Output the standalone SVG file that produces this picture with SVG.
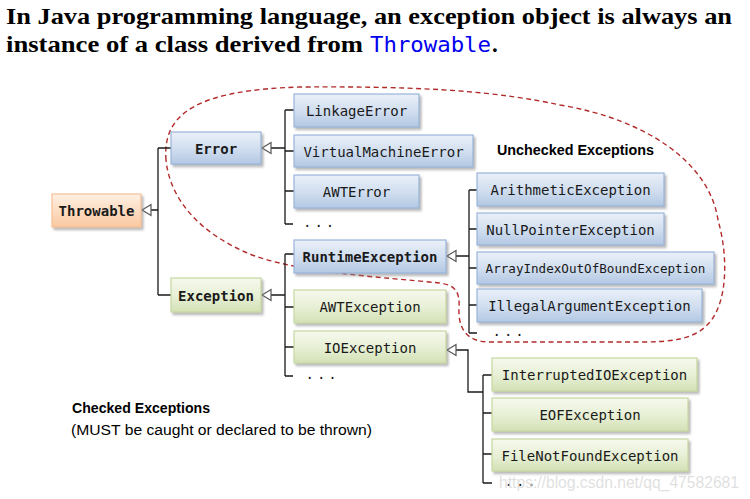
<svg xmlns="http://www.w3.org/2000/svg" width="750" height="499" viewBox="0 0 750 499">
<defs>
<linearGradient id="gBlue" x1="0" y1="0" x2="0" y2="1">
<stop offset="0" stop-color="#eaf0f8"/><stop offset="0.5" stop-color="#d2dff0"/><stop offset="1" stop-color="#b3c8e3"/>
</linearGradient>
<linearGradient id="gGreen" x1="0" y1="0" x2="0" y2="1">
<stop offset="0" stop-color="#f6f9ee"/><stop offset="0.5" stop-color="#e8f0d6"/><stop offset="1" stop-color="#d3e1b6"/>
</linearGradient>
<linearGradient id="gOrange" x1="0" y1="0" x2="0" y2="1">
<stop offset="0" stop-color="#fef0e4"/><stop offset="0.5" stop-color="#fddcc2"/><stop offset="1" stop-color="#fac9a0"/>
</linearGradient>
<filter id="sh" x="-10%" y="-20%" width="130%" height="160%">
<feDropShadow dx="2" dy="2.5" stdDeviation="1.2" flood-color="#808080" flood-opacity="0.55"/>
</filter>
</defs>
<style>
.b{fill:url(#gBlue);stroke:#9ab5d9;stroke-width:1.2;filter:url(#sh)}
.g{fill:url(#gGreen);stroke:#c6d8a0;stroke-width:1.2;filter:url(#sh)}
.o{fill:url(#gOrange);stroke:#f5c096;stroke-width:1.2;filter:url(#sh)}
.t{font-family:"DejaVu Sans Mono","Liberation Mono",monospace;font-size:14px;fill:#1a1a1a;text-anchor:middle}
.tb{font-weight:bold}
.sm{font-size:12.6px}
.dots{font-family:"DejaVu Sans Mono","Liberation Mono",monospace;font-size:14px;fill:#1a1a1a;letter-spacing:3px}
.ln{stroke:#1a1a1a;stroke-width:1.3;fill:none}
.ah{stroke:#555;stroke-width:1.2;fill:#fff}
.ttl{font-family:"Liberation Serif","DejaVu Serif",serif;font-weight:bold;font-size:23px;fill:#000}
.lab{font-family:"Liberation Sans",Arial,sans-serif;font-size:14px;fill:#000}
</style>
<rect width="750" height="499" fill="#fff"/>

<text class="ttl" x="6" y="24" textLength="726" lengthAdjust="spacingAndGlyphs">In Java programming language, an exception object is always an</text>
<text class="ttl" x="6" y="52" textLength="357" lengthAdjust="spacingAndGlyphs">instance of a class derived from</text>
<text x="370" y="52" font-family="DejaVu Sans Mono,Liberation Mono,monospace" font-size="21px" fill="#0000ee" textLength="121" lengthAdjust="spacingAndGlyphs">Throwable</text>
<text class="ttl" x="492" y="52">.</text>

<path d="M166,160 C162,112 200,90 300,87 C430,86 500,92 560,105 C650,120 710,165 718,220 C728,255 728,300 710,322 C695,340 670,342 640,342 L490,342 C465,342 458,327 459,307 C460,292 455,285 440,283 C380,277 290,272 245,252 C200,232 170,200 166,160 Z" fill="none" stroke="#b22a2a" stroke-width="1.4" stroke-dasharray="5,3.5"/>

<g id="connectors">
<path class="ln" d="M151,210 H158 M158,148 V295 M158,148 H171 M158,295 H171"/>
<polygon class="ah" points="142,210 151,204.5 151,215.5"/>
<path class="ln" d="M271,148 H285 M285,110 V224 M285,110 H294 M285,151 H294 M285,191 H294 M285,224 H293"/>
<polygon class="ah" points="262,148 271,142.5 271,153.5"/>
<path class="ln" d="M271,295 H285 M285,254 V376 M285,254 H294 M285,307 H294 M285,347 H294 M285,376 H293"/>
<polygon class="ah" points="262,295 271,289.5 271,300.5"/>
<path class="ln" d="M456,256 H469 M469,190 V333 M469,190 H477 M469,229 H477 M469,268 H477 M469,305 H477 M469,333 H477"/>
<polygon class="ah" points="447,256 456,250.5 456,261.5"/>
<path class="ln" d="M456,350 H468 V392 H483 M483,375 V483 M483,375 H492 M483,413 H492 M483,454 H492 M483,483 H492"/>
<polygon class="ah" points="447,350 456,344.5 456,355.5"/>
</g>

<g id="throwable"><rect class="o" x="52" y="194" width="89" height="33"/><text class="t tb" x="96.5" y="216">Throwable</text></g>
<g id="error"><rect class="b" x="171" y="132" width="90" height="32"/><text class="t tb" x="216" y="153.5">Error</text></g>
<g id="linkageerror"><rect class="b" x="294" y="94" width="125" height="33"/><text class="t" x="356.5" y="116">LinkageError</text></g>
<g id="virtualmachineerror"><rect class="b" x="294" y="135" width="179" height="32"/><text class="t" x="383.5" y="156.5">VirtualMachineError</text></g>
<g id="awterror"><rect class="b" x="294" y="175" width="125" height="33"/><text class="t" x="356.5" y="197">AWTError</text></g>
<g id="error-more"><text class="dots" x="303" y="227">...</text></g>

<g id="unchecked-label"><text class="lab" x="497" y="155" font-weight="bold" textLength="157" lengthAdjust="spacingAndGlyphs">Unchecked Exceptions</text></g>

<g id="runtimeexception"><rect class="b" x="294" y="240" width="152" height="33"/><text class="t tb" x="370" y="262">RuntimeException</text></g>
<g id="arithmeticexception"><rect class="b" x="477" y="173" width="187" height="33"/><text class="t" x="570.5" y="195">ArithmeticException</text></g>
<g id="nullpointerexception"><rect class="b" x="477" y="213" width="187" height="32"/><text class="t" x="570.5" y="234.5">NullPointerException</text></g>
<g id="arrayindexoutofboundexception"><rect class="b" x="477" y="252" width="237" height="32"/><text class="t sm" x="595.5" y="272.5">ArrayIndexOutOfBoundException</text></g>
<g id="illegalargumentexception"><rect class="b" x="477" y="289" width="225" height="33"/><text class="t" x="589.5" y="311">IllegalArgumentException</text></g>
<g id="runtime-more"><text class="dots" x="492.5" y="336">...</text></g>

<g id="exception"><rect class="g" x="171" y="278" width="90" height="34"/><text class="t tb" x="216" y="300.5">Exception</text></g>
<g id="awtexception"><rect class="g" x="294" y="290" width="152" height="33"/><text class="t" x="370" y="312">AWTException</text></g>
<g id="ioexception"><rect class="g" x="294" y="331" width="152" height="32"/><text class="t" x="370" y="352.5">IOException</text></g>
<g id="exception-more"><text class="dots" x="305.5" y="379">...</text></g>

<g id="interruptedioexception"><rect class="g" x="492" y="358" width="205" height="33"/><text class="t" x="594.5" y="380">InterruptedIOException</text></g>
<g id="eofexception"><rect class="g" x="492" y="398" width="196" height="33"/><text class="t" x="590" y="420">EOFException</text></g>
<g id="filenotfoundexception"><rect class="g" x="492" y="439" width="196" height="32"/><text class="t" x="590" y="460.5">FileNotFoundException</text></g>
<g id="io-more"><text class="dots" x="504.5" y="486">...</text></g>

<g id="checked-label">
<text class="lab" x="72" y="413" font-weight="bold" textLength="138" lengthAdjust="spacingAndGlyphs">Checked Exceptions</text>
<text class="lab" x="71" y="435" textLength="301" lengthAdjust="spacingAndGlyphs">(MUST be caught or declared to be thrown)</text>
</g>

<text x="499" y="488" font-family="Liberation Sans,Arial,sans-serif" font-size="17px" fill="#d8d8d8" fill-opacity="0.8" textLength="240" lengthAdjust="spacingAndGlyphs">https://blog.csdn.net/qq_47582681</text>
</svg>
